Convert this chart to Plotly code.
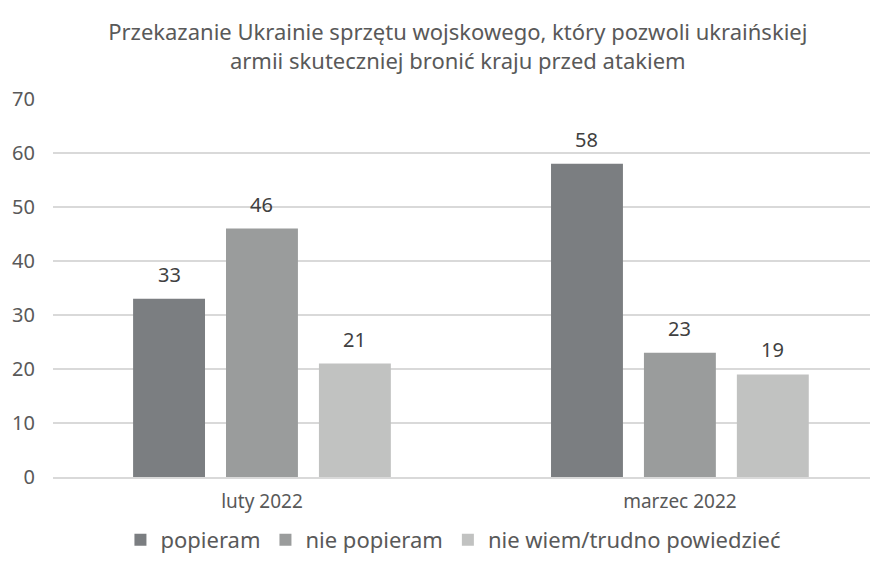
import plotly.graph_objects as go

categories = ["luty 2022", "marzec 2022"]
series_names = ["popieram", "nie popieram", "nie wiem/trudno powiedzieć"]
popieram = [33, 58]
nie_popieram = [46, 23]
nie_wiem = [21, 19]
y_ticks = [0, 10, 20, 30, 40, 50, 60, 70]

colors = ["#7b7e81", "#9a9c9c", "#c1c2c1"]
font_name = "Noto Sans"
text_col = "#595959"

# the page body has an 8px margin, so the figure is 8px smaller than the window
W, H = 870, 553
bargap = 0.333
slot = (1 - bargap) / 3

fig = go.Figure()
for i, (name, vals, col) in enumerate(zip(series_names, [popieram, nie_popieram, nie_wiem], colors)):
    fig.add_trace(go.Bar(
        x=categories, y=vals, name=name,
        marker=dict(color=col, line=dict(width=0)),
    ))
    # value labels above bars
    for j, v in enumerate(vals):
        fig.add_annotation(
            x=j + (i - 1) * slot, y=v, text=str(v), showarrow=False,
            xref="x", yref="y", yanchor="bottom", yshift=9,
            font=dict(family=font_name, size=20, color="#404040"),
        )

fig.update_layout(
    width=W, height=H,
    paper_bgcolor="white", plot_bgcolor="white",
    margin=dict(l=45, r=0, t=91, b=84),
    barmode="group", bargap=bargap, bargroupgap=0.226,
    font=dict(family=font_name, color=text_col),
    title=dict(
        text="Przekazanie Ukrainie sprzętu wojskowego, który pozwoli ukraińskiej<br>armii skuteczniej bronić kraju przed atakiem",
        xref="container", x=0.517, xanchor="center",
        yref="container", y=0.942, yanchor="top",
        font=dict(family=font_name, size=22, color=text_col),
    ),
    legend=dict(
        orientation="h", xref="container", x=0.512, xanchor="center",
        yref="container", y=0.038, yanchor="middle",
        font=dict(family=font_name, size=22, color=text_col),
        traceorder="normal",
    ),
    showlegend=True,
)
fig.update_xaxes(
    range=[-0.5, 1.474], showgrid=False, showline=True, linecolor="#d9d9d9", linewidth=2,
    tickfont=dict(family=font_name, size=19, color=text_col), ticks="", automargin=False,
    ticklabelstandoff=6,
)
fig.update_yaxes(
    range=[0, 70], tickvals=y_ticks, showgrid=True, gridcolor="#d9d9d9", gridwidth=2,
    zeroline=False, showline=False, automargin=False,
    tickfont=dict(family=font_name, size=20, color=text_col), ticks="", ticklabelstandoff=17,
)

fig.write_html("out.html")
